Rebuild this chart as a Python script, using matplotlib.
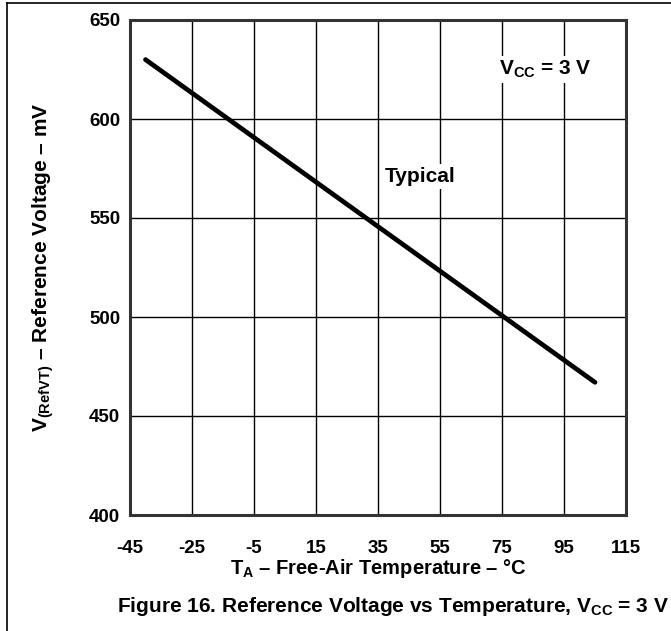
import matplotlib
matplotlib.use('Agg')
import matplotlib.pyplot as plt
from matplotlib.lines import Line2D

plt.rcParams['font.family'] = ['Liberation Sans', 'DejaVu Sans']
plt.rcParams['font.weight'] = 'bold'
plt.rcParams['axes.labelweight'] = 'bold'
plt.rcParams['axes.unicode_minus'] = False
plt.rcParams['mathtext.fontset'] = 'custom'
plt.rcParams['mathtext.rm'] = 'Liberation Sans:bold'
plt.rcParams['mathtext.it'] = 'Liberation Sans:bold'
plt.rcParams['mathtext.bf'] = 'Liberation Sans:bold'

# reference voltage vs free-air temperature, Vcc = 3 V
temp_c = [-40, 105]
vref_mv = [630, 467]

x_ticks = [-45, -25, -5, 15, 35, 55, 75, 95, 115]
y_ticks = [400, 450, 500, 550, 600, 650]

fig = plt.figure(figsize=(6.71, 6.31), dpi=100)
ax = fig.add_axes([130 / 671, 1 - 515 / 631, 496 / 671, 495 / 631])

ax.plot(temp_c, vref_mv, color='black', lw=3.4, solid_capstyle='round', zorder=3)

ax.set_xlim(-45, 115)
ax.set_ylim(400, 650)
ax.set_xticks(x_ticks)
ax.set_yticks(y_ticks)
ax.grid(True, color='black', lw=1.0)
ax.tick_params(length=0, labelsize=13.5)
ax.tick_params(axis='x', pad=18)
ax.tick_params(axis='y', pad=7)
for s in ax.spines.values():
    s.set_linewidth(2.2)
    s.set_color('#333333')

ax.set_xlabel(r'T$_{\mathrm{A}}$ – Free-Air Temperature – °C', fontsize=14.5, labelpad=0)
ax.set_ylabel(r'V$_{\mathrm{(RefVT)}}$ – Reference Voltage – mV', fontsize=15, labelpad=24)

box = dict(facecolor='white', edgecolor='none', pad=2)
ax.text(89, 625, r'V$_{\mathrm{CC}}$ = 3 V', fontsize=15, ha='center', va='center', bbox=box, zorder=4)
ax.text(48.5, 571, 'Typical', fontsize=15, ha='center', va='center', bbox=box, zorder=4)

fig.text(393 / 671, 1 - 606 / 631,
         r'Figure 16. Reference Voltage vs Temperature, V$_{\mathrm{CC}}$ = 3 V',
         fontsize=15, ha='center', va='center')

# page frame on left and top
fig.add_artist(Line2D([7 / 671, 7 / 671], [0, 1 - 3 / 631], transform=fig.transFigure, color='black', lw=1.2))
fig.add_artist(Line2D([7 / 671, 1], [1 - 3 / 631, 1 - 3 / 631], transform=fig.transFigure, color='black', lw=1.2))

fig.savefig('out.png', dpi=100)
